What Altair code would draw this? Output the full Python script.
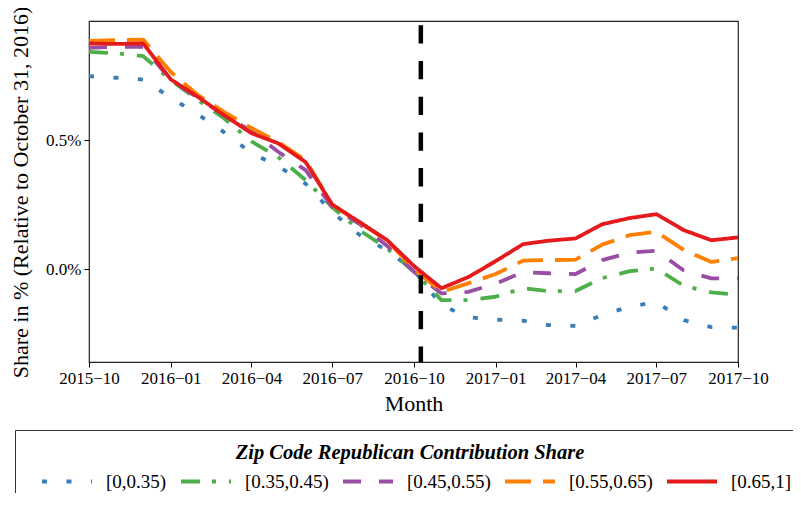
import altair as alt
import pandas as pd

months = [
    "2015-10-01", "2015-11-01", "2015-12-01", "2016-01-01", "2016-02-01", "2016-03-01",
    "2016-04-01", "2016-05-01", "2016-06-01", "2016-07-01", "2016-08-01", "2016-09-01",
    "2016-10-01", "2016-11-01", "2016-12-01", "2017-01-01", "2017-02-01", "2017-03-01",
    "2017-04-01", "2017-05-01", "2017-06-01", "2017-07-01", "2017-08-01", "2017-09-01",
    "2017-10-01",
]
groups = ["[0,0.35)", "[0.35,0.45)", "[0.45,0.55)", "[0.55,0.65)", "[0.65,1]"]

s_0_035 = [0.748, 0.742, 0.735, 0.665, 0.599, 0.531, 0.45, 0.399, 0.331, 0.221, 0.132, 0.072,
           -0.005, -0.14, -0.186, -0.196, -0.2, -0.217, -0.22, -0.178, -0.145, -0.128, -0.198,
           -0.225, -0.227]
s_035_045 = [0.842, 0.837, 0.826, 0.733, 0.655, 0.585, 0.495, 0.435, 0.345, 0.24, 0.15, 0.08,
             -0.01, -0.12, -0.12, -0.107, -0.074, -0.085, -0.085, -0.035, -0.008, 0.003, -0.065,
             -0.09, -0.1]
s_045_055 = [0.858, 0.862, 0.862, 0.733, 0.663, 0.597, 0.535, 0.455, 0.384, 0.24, 0.174, 0.09,
             -0.01, -0.094, -0.088, -0.056, -0.012, -0.016, -0.019, 0.035, 0.064, 0.071, -0.005,
             -0.036, -0.036]
s_055_065 = [0.885, 0.888, 0.89, 0.765, 0.674, 0.61, 0.547, 0.493, 0.422, 0.25, 0.18, 0.11,
             0.0, -0.088, -0.055, -0.019, 0.033, 0.035, 0.037, 0.095, 0.132, 0.145, 0.074,
             0.028, 0.043]
s_065_1 = [0.875, 0.873, 0.875, 0.736, 0.667, 0.597, 0.527, 0.488, 0.415, 0.25, 0.182, 0.112,
           0.012, -0.074, -0.031, 0.031, 0.097, 0.11, 0.119, 0.174, 0.198, 0.213, 0.151,
           0.112, 0.123]
series = [s_0_035, s_035_045, s_045_055, s_055_065, s_065_1]

colors = ["#377eb8", "#4daf4a", "#984ea3", "#ff7f00", "#e41a1c"]
dashes = [[5, 19.5], [19, 12, 4, 13], [18, 18], [26, 12], [1, 0]]

election_marker = ["2016-10-08T18:00:00Z"]
x_ticks = [(2015, 10), (2016, 1), (2016, 4), (2016, 7), (2016, 10), (2017, 1), (2017, 4),
           (2017, 7), (2017, 10)]
y_ticks = [0.0, 0.5]

rows = []
for g, vals in zip(groups, series):
    for m, v in zip(months, vals):
        rows.append({"date": m, "value": v, "group": g})
df = pd.DataFrame(rows)

FONT = "Liberation Serif"

x_scale = alt.Scale(
    type="utc",
    domain=[alt.DateTime(year=2015, month=10, date=1, utc=True),
            alt.DateTime(year=2017, month=10, date=1, utc=True)],
)
x_axis = alt.Axis(
    values=[alt.DateTime(year=y, month=m, date=1, utc=True) for y, m in x_ticks],
    labelExpr="utcFormat(datum.value, '%Y\u2212%m')",
    labelFlush=False, labelOverlap=False, grid=False, domain=False,
    tickColor="black", tickSize=5, tickWidth=1,
    labelFont=FONT, labelFontSize=17, labelColor="black", labelPadding=3,
    titleFont=FONT, titleFontSize=22, titleFontWeight="normal", titleColor="black",
    titlePadding=7,
)
y_axis = alt.Axis(
    values=y_ticks,
    labelExpr="format(datum.value, '.1f') + '%'",
    grid=False, domain=False,
    tickColor="black", tickSize=5, tickWidth=1,
    labelFont=FONT, labelFontSize=17, labelColor="black", labelPadding=3,
    titleFont=FONT, titleFontSize=22, titleFontWeight="normal", titleColor="black",
    titleX=-69, titleY=171, titleBaseline="middle", titleAlign="center", titleAngle=270,
)

legend = alt.Legend(
    orient="none", legendX=-74, legendY=409, direction="horizontal", columns=5,
    gridAlign="each",
    symbolType="stroke", symbolSize=2500, symbolStrokeWidth=4, symbolOffset=12,
    labelFont=FONT, labelFontSize=19, labelColor="black", labelOffset=12,
    columnPadding=-6.5,
    labelExpr=("datum.label == '[0.65,1]' ? datum.label + "
               "'\u00a0\u00a0\u00a0\u00a0\u00a0\u00a0' : datum.label"),
    titleFont=FONT, titleFontSize=20.5, titleFontStyle="italic", titleFontWeight="bold",
    titleColor="black", titleAnchor="middle", titlePadding=-9, titleLimit=700,
    padding=13, strokeColor="#333333", fillColor="white",
)

lines = alt.Chart(df).mark_line(strokeWidth=3.8, strokeCap="butt", strokeJoin="round").encode(
    x=alt.X("date:T", scale=x_scale, axis=x_axis, title="Month"),
    y=alt.Y("value:Q", scale=alt.Scale(domain=[-0.36, 0.962], nice=False, zero=False),
            axis=y_axis, title="Share in % (Relative to October 31, 2016)"),
    color=alt.Color("group:N", scale=alt.Scale(domain=groups, range=colors), legend=legend,
                    title="Zip Code Republican Contribution Share"),
    strokeDash=alt.StrokeDash("group:N", scale=alt.Scale(domain=groups, range=dashes),
                              legend=legend, title="Zip Code Republican Contribution Share"),
)

rule_df = pd.DataFrame({"date": election_marker})
rule = alt.Chart(rule_df).mark_rule(
    color="black", strokeWidth=4.5, strokeDash=[18.3, 17.4], strokeDashOffset=31.4
).encode(x=alt.X("date:T", title="Month"))

chart = alt.layer(lines, rule).properties(
    width=649, height=341,
    autosize=alt.AutoSizeParams(type="none"),
    padding={"left": 81, "top": 13, "right": 55, "bottom": 131},
    background="white",
).configure_view(stroke="#222222", strokeWidth=1.2)

chart.save("out.html", embed_options={"renderer": "svg", "actions": False})
